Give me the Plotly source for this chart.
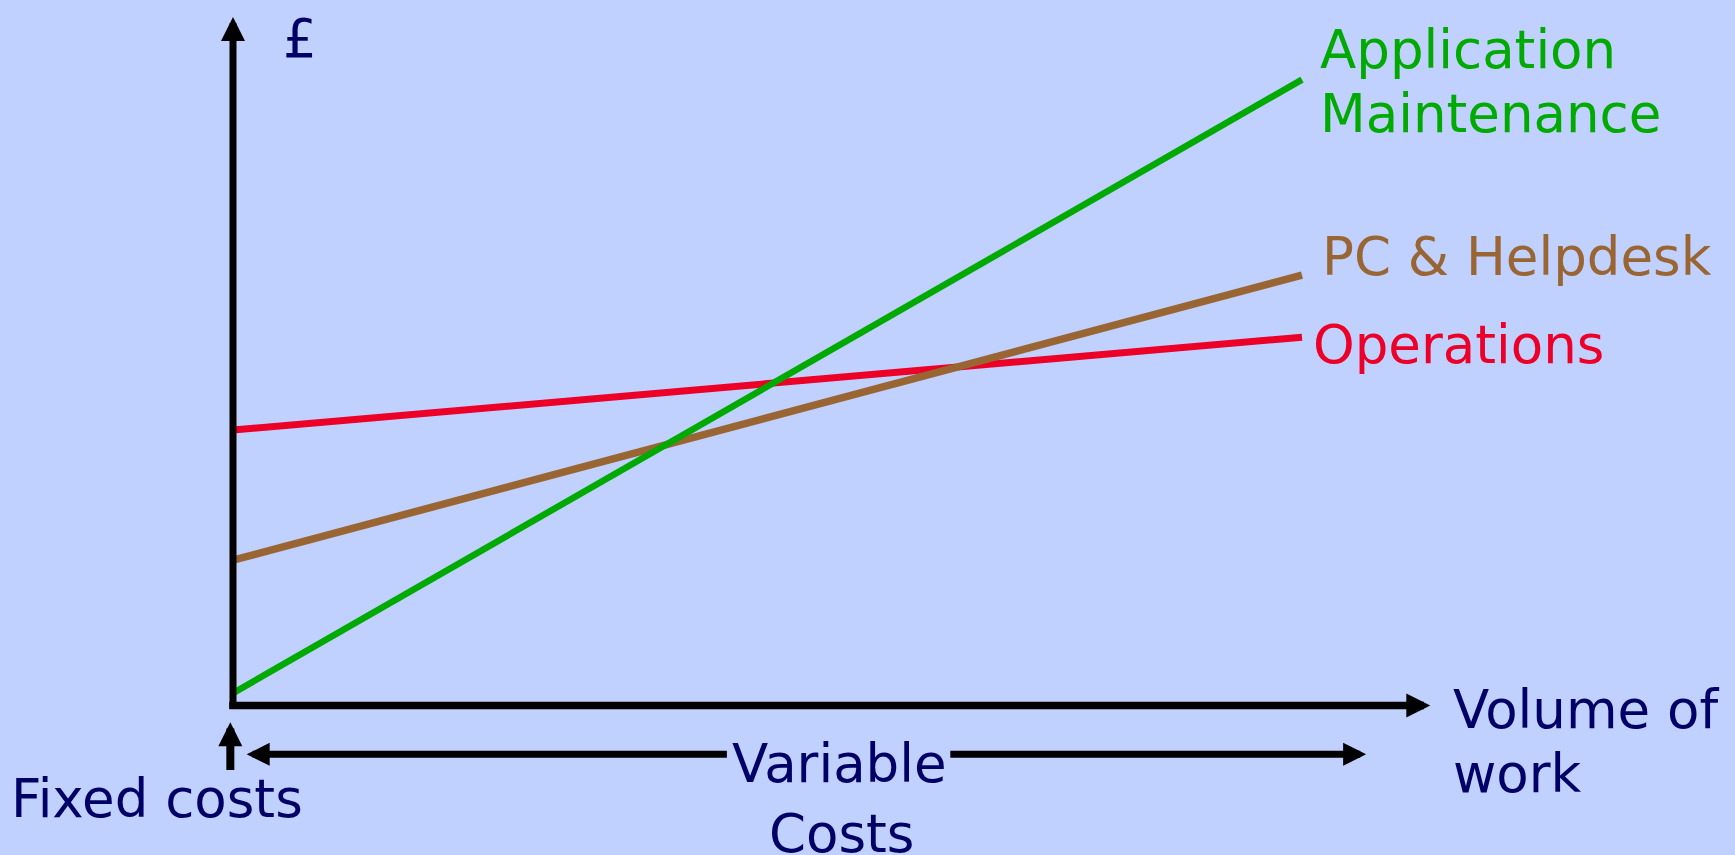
import plotly.graph_objects as go

# Cost curves: fixed cost at zero volume, rising with volume of work
volume = [0, 10]
operations = [40.0, 53.5]
pc_helpdesk = [21.1, 62.5]
app_maintenance = [1.8, 90.9]

series_names = ["Operations", "PC & Helpdesk", "Application Maintenance"]
series_values = [operations, pc_helpdesk, app_maintenance]
series_colors = ["#EC0028", "#996633", "#00AA00"]
series_widths = [7, 7.5, 6.5]

# Canvas and axis geometry (pixels)
W, H = 1735, 855
ORIGIN_PX = (233.0, 705.5)
PX_PER_X = 106.9
PX_PER_Y = 6.885
Y_AXIS_TOP = 100.0
X_AXIS_END = 11.2

BG = "rgb(192,208,255)"
NAVY = "#000066"
FONT = "DejaVu Sans"
FS = 53
# distance from baseline up to the middle of the text box
MID = (0.928 - 0.236) / 2 * FS

x_range = [-ORIGIN_PX[0] / PX_PER_X, (W - ORIGIN_PX[0]) / PX_PER_X]
y_range = [-(H - ORIGIN_PX[1]) / PX_PER_Y, ORIGIN_PX[1] / PX_PER_Y]


def paper(xp, yp):
    return xp / W, 1 - yp / H


fig = go.Figure()

for name, vals, col, lw in zip(series_names, series_values, series_colors, series_widths):
    fig.add_trace(go.Scatter(
        x=volume, y=vals, mode="lines", name=name,
        line=dict(color=col, width=lw), hoverinfo="skip",
    ))

annotations = []


def arrow(x_tail, y_tail, x_tip, y_tip, width, size):
    annotations.append(dict(
        x=x_tip, y=y_tip, ax=x_tail, ay=y_tail,
        xref="x", yref="y", axref="x", ayref="y",
        text="", showarrow=True, arrowhead=2, arrowsize=size,
        arrowwidth=width, arrowcolor="black", font=dict(size=1),
        borderpad=0, borderwidth=0, standoff=0, startstandoff=0,
    ))


# axes
arrow(0, -0.5, 0, Y_AXIS_TOP, 7, 24 / 35)
arrow(-0.035, 0, X_AXIS_END, 0, 7.3, 23 / 35)
# fixed costs marker
arrow(-0.025, -9.37, -0.025, -2.44, 8, 0.6)
# variable costs span
arrow(4.62, -7.09, 0.128, -7.09, 7, 23 / 35)
arrow(6.71, -7.09, 10.6, -7.09, 7, 23 / 35)


def label(text, xp, baseline, color, anchor="left"):
    px, py = paper(xp, baseline - MID)
    annotations.append(dict(
        x=px, y=py, xref="paper", yref="paper", text=text, showarrow=False,
        xanchor=anchor, yanchor="middle", borderpad=0, borderwidth=0,
        font=dict(family=FONT, size=FS, color=color),
    ))


label("£", 283, 56.7, NAVY)
label("Application", 1320, 68.3, series_colors[2])
label("Maintenance", 1320, 131.7, series_colors[2])
label("PC &amp; Helpdesk", 1321.5, 275.0, series_colors[1])
label("Operations", 1313, 363.3, series_colors[0])
label("Volume of", 1453, 728.3, NAVY)
label("work", 1453, 791.7, NAVY)
label("Fixed costs", 11, 816.7, NAVY)
label("Variable", 839, 781.7, NAVY, "center")
label("Costs", 841, 851.7, NAVY, "center")

fig.update_layout(
    width=W, height=H,
    margin=dict(l=0, r=0, t=0, b=0, pad=0),
    paper_bgcolor=BG, plot_bgcolor=BG,
    showlegend=False,
    xaxis=dict(range=x_range, visible=False, fixedrange=True),
    yaxis=dict(range=y_range, visible=False, fixedrange=True),
    annotations=annotations,
)

fig.write_html("out.html", config={"displayModeBar": False})
